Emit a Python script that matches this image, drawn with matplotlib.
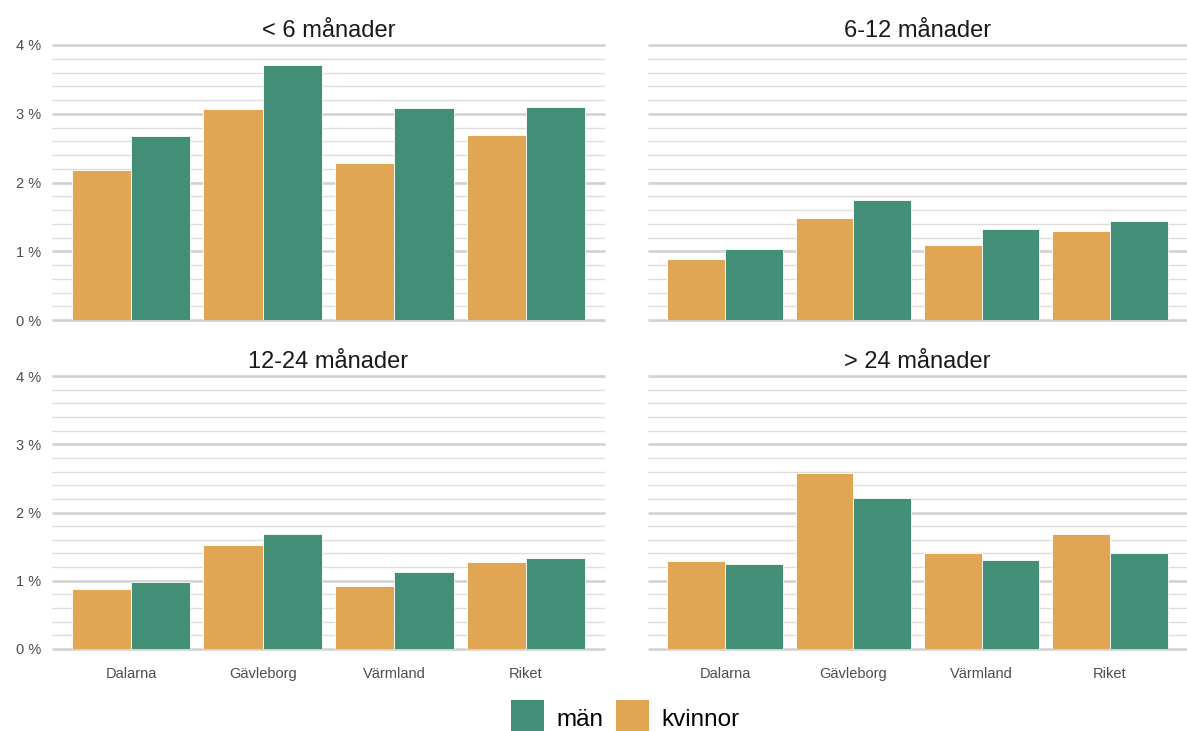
import numpy as np
import matplotlib
matplotlib.use("Agg")
import matplotlib.pyplot as plt
from matplotlib.patches import Patch
from matplotlib.ticker import MultipleLocator, FuncFormatter

plt.rcParams['font.family'] = ['Liberation Sans', 'DejaVu Sans']

# data (percent)
regions = ["Dalarna", "Gävleborg", "Värmland", "Riket"]
panels = ["< 6 månader", "6-12 månader", "12-24 månader", "> 24 månader"]
kvinnor = [
    [2.18, 3.07, 2.29, 2.69],
    [0.89, 1.48, 1.09, 1.30],
    [0.88, 1.52, 0.92, 1.27],
    [1.29, 2.58, 1.41, 1.68],
]
man = [
    [2.68, 3.71, 3.08, 3.10],
    [1.03, 1.74, 1.32, 1.44],
    [0.98, 1.68, 1.13, 1.33],
    [1.24, 2.21, 1.31, 1.41],
]

col_k = "#E1A653"
col_m = "#438E77"

W, H = 1187, 731
fig = plt.figure(figsize=(W / 100, H / 100), dpi=100)

# panel boxes in pixels: left, right, top, bottom
boxes = [
    (52, 605, 45, 320),
    (648, 1187, 45, 320),
    (52, 605, 376, 649),
    (648, 1187, 376, 649),
]

x = np.arange(1, len(regions) + 1)
bw = 0.45

for i, (l, r, t, b) in enumerate(boxes):
    ax = fig.add_axes([l / W, 1 - b / H, (r - l) / W, (b - t) / H])
    ax.bar(x - bw / 2, kvinnor[i], width=bw, color=col_k, edgecolor="white", linewidth=0.6, zorder=3)
    ax.bar(x + bw / 2, man[i], width=bw, color=col_m, edgecolor="white", linewidth=0.6, zorder=3)
    ax.set_xlim(0.4, 4.6)
    ax.set_ylim(0, 4.0)
    ax.yaxis.set_major_locator(MultipleLocator(1))
    ax.yaxis.set_minor_locator(MultipleLocator(0.2))
    ax.yaxis.set_major_formatter(FuncFormatter(lambda v, p: f"{v:.0f} %"))
    ax.grid(axis="y", which="major", color="#D2D2D2", linewidth=1.9, zorder=0)
    ax.grid(axis="y", which="minor", color="#DEDEDE", linewidth=1.0, zorder=0)
    for gl in ax.get_ygridlines():
        gl.set_clip_on(False)
        gl.set_solid_capstyle("butt")
    for s in ax.spines.values():
        s.set_visible(False)
    ax.tick_params(axis="both", which="both", length=0, colors="#4D4D4D", labelsize=10.5)
    ax.tick_params(axis="y", pad=8)
    ax.tick_params(axis="x", pad=13)
    ax.set_xticks(x)
    if i >= 2:
        ax.set_xticklabels(regions)
    else:
        ax.set_xticklabels([])
    if i % 2 == 1:
        ax.set_yticklabels([])
    ax.set_title(panels[i], fontsize=17, color="#1A1A1A", pad=6)

handles = [Patch(facecolor=col_m, label="män"), Patch(facecolor=col_k, label="kvinnor")]
fig.legend(handles=handles, loc="upper left", bbox_to_anchor=(511 / W, 1 - 700 / H),
           ncol=2, frameon=False, fontsize=17.5, borderpad=0, borderaxespad=0,
           handlelength=1.35, handleheight=1.95, handletextpad=0.5, columnspacing=0.55)

fig.savefig("out.png", dpi=100)
